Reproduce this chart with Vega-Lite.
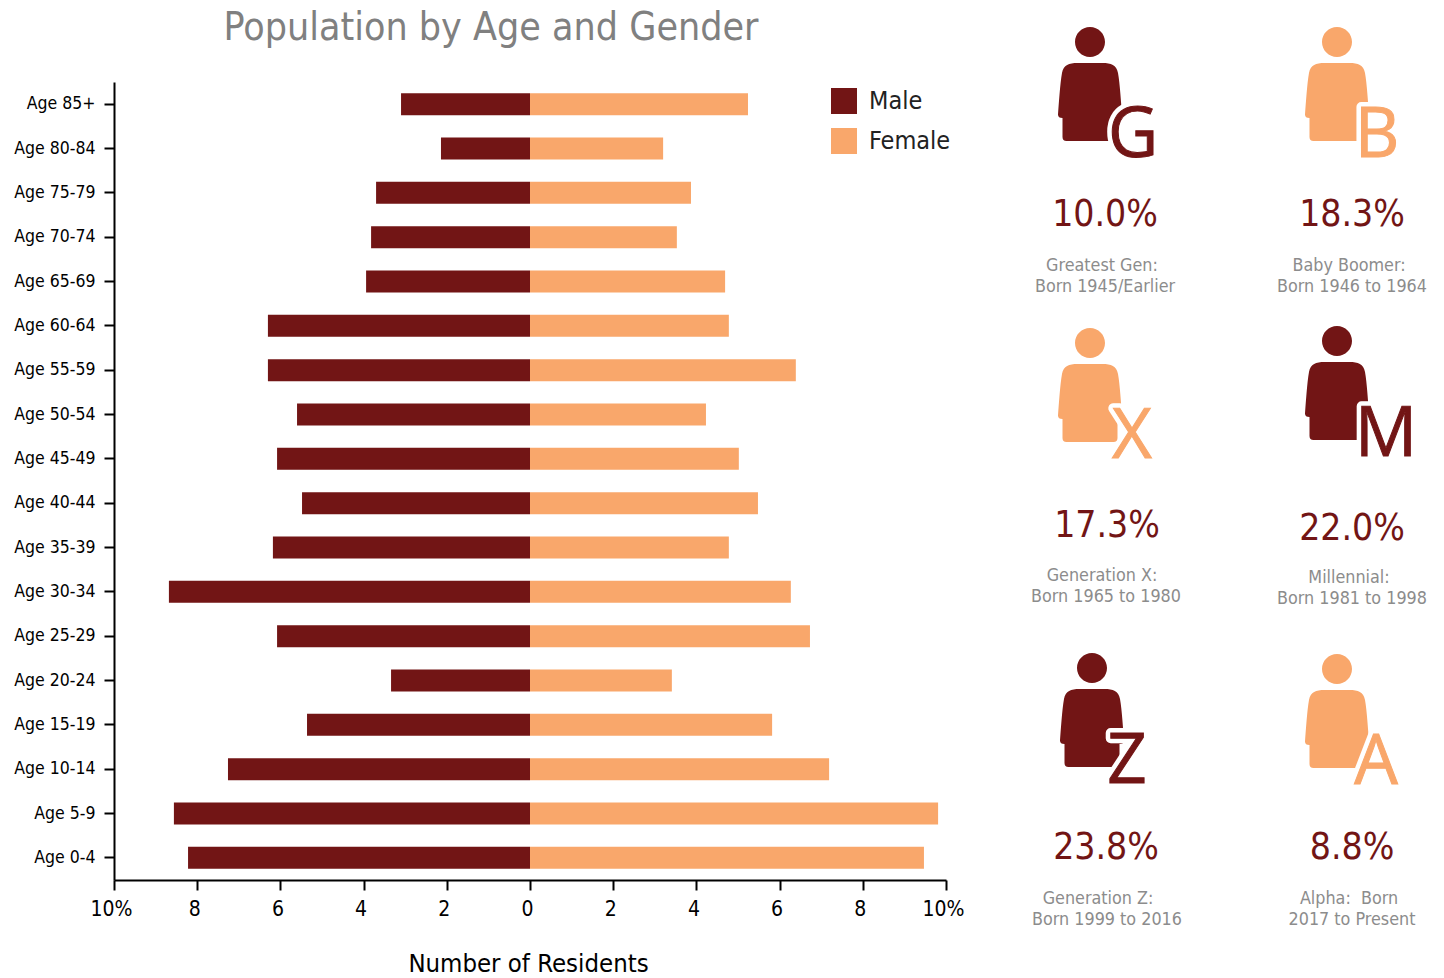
{
"$schema":"https://vega.github.io/schema/vega-lite/v6.json",
"background":"white",
"padding":{"left":13,"top":9,"right":0,"bottom":0},
"config":{"view":{"stroke":null},"font":"DejaVu Sans Condensed","concat":{"spacing":36}},
"resolve":{"scale":{"color":"independent"}},
"datasets":{
"pop":[
{"age":"Age 85+","gender":"Male","share":-3.10},{"age":"Age 85+","gender":"Female","share":5.24},
{"age":"Age 80-84","gender":"Male","share":-2.14},{"age":"Age 80-84","gender":"Female","share":3.20},
{"age":"Age 75-79","gender":"Male","share":-3.70},{"age":"Age 75-79","gender":"Female","share":3.87},
{"age":"Age 70-74","gender":"Male","share":-3.82},{"age":"Age 70-74","gender":"Female","share":3.53},
{"age":"Age 65-69","gender":"Male","share":-3.94},{"age":"Age 65-69","gender":"Female","share":4.69},
{"age":"Age 60-64","gender":"Male","share":-6.30},{"age":"Age 60-64","gender":"Female","share":4.78},
{"age":"Age 55-59","gender":"Male","share":-6.30},{"age":"Age 55-59","gender":"Female","share":6.39},
{"age":"Age 50-54","gender":"Male","share":-5.60},{"age":"Age 50-54","gender":"Female","share":4.23},
{"age":"Age 45-49","gender":"Male","share":-6.08},{"age":"Age 45-49","gender":"Female","share":5.02},
{"age":"Age 40-44","gender":"Male","share":-5.48},{"age":"Age 40-44","gender":"Female","share":5.48},
{"age":"Age 35-39","gender":"Male","share":-6.18},{"age":"Age 35-39","gender":"Female","share":4.78},
{"age":"Age 30-34","gender":"Male","share":-8.68},{"age":"Age 30-34","gender":"Female","share":6.27},
{"age":"Age 25-29","gender":"Male","share":-6.08},{"age":"Age 25-29","gender":"Female","share":6.73},
{"age":"Age 20-24","gender":"Male","share":-3.34},{"age":"Age 20-24","gender":"Female","share":3.41},
{"age":"Age 15-19","gender":"Male","share":-5.36},{"age":"Age 15-19","gender":"Female","share":5.82},
{"age":"Age 10-14","gender":"Male","share":-7.26},{"age":"Age 10-14","gender":"Female","share":7.19},
{"age":"Age 5-9","gender":"Male","share":-8.56},{"age":"Age 5-9","gender":"Female","share":9.81},
{"age":"Age 0-4","gender":"Male","share":-8.22},{"age":"Age 0-4","gender":"Female","share":9.47}
],
"gens":[
{"generation":"Greatest Gen","rank":1,"letter":"G","share":0.100,"line1":"Greatest Gen:","line2":"Born 1945/Earlier"},
{"generation":"Baby Boomer","rank":2,"letter":"B","share":0.183,"line1":"Baby Boomer:","line2":"Born 1946 to 1964"},
{"generation":"Generation X","rank":3,"letter":"X","share":0.173,"line1":"Generation X:","line2":"Born 1965 to 1980"},
{"generation":"Millennial","rank":4,"letter":"M","share":0.220,"line1":"Millennial:","line2":"Born 1981 to 1998"},
{"generation":"Generation Z","rank":5,"letter":"Z","share":0.238,"line1":"Generation Z:","line2":"Born 1999 to 2016"},
{"generation":"Alpha","rank":6,"letter":"A","share":0.088,"line1":"Alpha: \u00a0Born","line2":"2017 to Present"}
]},
"hconcat":[
{"width":832,"height":798,
"title":{"text":"Population by Age and Gender","color":"#808080","fontSize":39,"fontWeight":"normal","anchor":"middle","dx":-39,"offset":34,"font":"DejaVu Sans Condensed"},
"data":{"name":"pop"},
"mark":{"type":"bar","size":22},
"encoding":{
"y":{"field":"age","type":"nominal","sort":["Age 85+","Age 80-84","Age 75-79","Age 70-74","Age 65-69","Age 60-64","Age 55-59","Age 50-54","Age 45-49","Age 40-44","Age 35-39","Age 30-34","Age 25-29","Age 20-24","Age 15-19","Age 10-14","Age 5-9","Age 0-4"],
"scale":{"paddingInner":0.5,"paddingOuter":0.25},
"axis":{"title":null,"domainColor":"black","domainWidth":2,"tickColor":"black","tickWidth":2,"tickSize":10,"labelPadding":9,"labelFontSize":17.5,"labelColor":"black","labelFont":"DejaVu Sans Condensed"}},
"x":{"field":"share","type":"quantitative","stack":null,"scale":{"domain":[-10,10],"nice":false},
"axis":{"title":"Number of Residents","titleFontSize":25.5,"titleFontWeight":"normal","titleColor":"black","titlePadding":32,"titleX":414,"grid":false,"values":[-10,-8,-6,-4,-2,0,2,4,6,8,10],"labelExpr":"abs(datum.value)==10?'10%':''+abs(datum.value)","labelFlush":false,"labelFontSize":21,"labelColor":"black","labelPadding":8,"labelOffset":-3,"domainColor":"black","domainWidth":2,"tickColor":"black","tickWidth":2,"tickSize":10}},
"color":{"field":"gender","type":"nominal","scale":{"domain":["Male","Female"],"range":["#721515","#F9A76B"]},
"legend":{"title":null,"orient":"none","legendX":717,"legendY":6,"symbolType":"square","symbolSize":676,"symbolOpacity":1,"symbolStrokeWidth":0,"labelFontSize":25,"labelColor":"#222222","labelOffset":12,"rowPadding":14,"clipHeight":26}}
}},
{"width":440,"height":798,"data":{"name":"gens"},
"resolve":{"scale":{"x":"independent","y":"independent"}},
"encoding":{"color":{"field":"generation","type":"nominal","legend":null,"scale":{"domain":["Greatest Gen","Baby Boomer","Generation X","Millennial","Generation Z","Alpha"],"range":["#721515","#F9A76B","#F9A76B","#721515","#721515","#F9A76B"]}}},
"layer":[
{"mark":{"type":"point","filled":true,"opacity":1,"size":10000,"shape":"M-0.3 0A0.3 0.3 0 1 1 0.3 0A0.3 0.3 0 1 1 -0.3 0ZM-0.25 0.42L0.25 0.42C0.42 0.42 0.53 0.46 0.56 0.62C0.6 0.85 0.62 1.2 0.64 1.45Q0.64 1.52 0.55 1.52L0.55 1.9Q0.55 1.98 0.47 1.98L-0.47 1.98Q-0.55 1.98 -0.55 1.9L-0.55 1.52Q-0.64 1.52 -0.64 1.45C-0.62 1.2 -0.6 0.85 -0.56 0.62C-0.53 0.46 -0.42 0.42 -0.25 0.42Z"},
"encoding":{
"x":{"field":"rank","type":"quantitative","axis":null,"scale":{"domain":[1,2,3,4,5,6],"range":[90,337,90,337,92,337],"zero":false,"nice":false}},
"y":{"field":"rank","type":"quantitative","axis":null,"scale":{"domain":[1,2,3,4,5,6],"range":[-40,-40,261,259,586,587],"zero":false,"nice":false}}}},
{"mark":{"type":"text","font":"Open Sans","fontSize":69,"align":"center","baseline":"alphabetic","stroke":"white","strokeWidth":10,"strokeJoin":"round"},
"encoding":{"color":{"value":"white"},"text":{"field":"letter"},
"x":{"field":"rank","type":"quantitative","axis":null,"scale":{"domain":[1,2,3,4,5,6],"range":[133,377,132,386,127,376],"zero":false,"nice":false}},
"y":{"field":"rank","type":"quantitative","axis":null,"scale":{"domain":[1,2,3,4,5,6],"range":[75,75,376,374,701,702],"zero":false,"nice":false}}}},
{"mark":{"type":"text","font":"Open Sans","fontSize":69,"align":"center","baseline":"alphabetic","strokeWidth":1},
"encoding":{"text":{"field":"letter"},
"stroke":{"field":"generation","type":"nominal","legend":null,"scale":{"domain":["Greatest Gen","Baby Boomer","Generation X","Millennial","Generation Z","Alpha"],"range":["#721515","#F9A76B","#F9A76B","#721515","#721515","#F9A76B"]}},
"x":{"field":"rank","type":"quantitative","axis":null,"scale":{"domain":[1,2,3,4,5,6],"range":[133,377,132,386,127,376],"zero":false,"nice":false}},
"y":{"field":"rank","type":"quantitative","axis":null,"scale":{"domain":[1,2,3,4,5,6],"range":[75,75,376,374,701,702],"zero":false,"nice":false}}}},
{"mark":{"type":"text","fontSize":37,"align":"center","baseline":"middle","color":"#721515"},
"encoding":{"color":{"value":"#721515"},"text":{"field":"share","type":"quantitative","format":".1%"},
"x":{"field":"rank","type":"quantitative","axis":null,"scale":{"domain":[1,2,3,4,5,6],"range":[105,352,107,352,106,352],"zero":false,"nice":false}},
"y":{"field":"rank","type":"quantitative","axis":null,"scale":{"domain":[1,2,3,4,5,6],"range":[133,133,444,447,766,766],"zero":false,"nice":false}}}},
{"mark":{"type":"text","fontSize":17.8,"align":"center","baseline":"middle"},
"encoding":{"color":{"value":"#8C8C8C"},"text":{"field":"line1"},
"x":{"field":"rank","type":"quantitative","axis":null,"scale":{"domain":[1,2,3,4,5,6],"range":[102,349,102,349,98,349],"zero":false,"nice":false}},
"y":{"field":"rank","type":"quantitative","axis":null,"scale":{"domain":[1,2,3,4,5,6],"range":[184,184,494,496,817,817],"zero":false,"nice":false}}}},
{"mark":{"type":"text","fontSize":17.8,"align":"center","baseline":"middle"},
"encoding":{"color":{"value":"#8C8C8C"},"text":{"field":"line2"},
"x":{"field":"rank","type":"quantitative","axis":null,"scale":{"domain":[1,2,3,4,5,6],"range":[105,352,106,352,107,352],"zero":false,"nice":false}},
"y":{"field":"rank","type":"quantitative","axis":null,"scale":{"domain":[1,2,3,4,5,6],"range":[205,205,515,517,838,838],"zero":false,"nice":false}}}}
]}
]}
